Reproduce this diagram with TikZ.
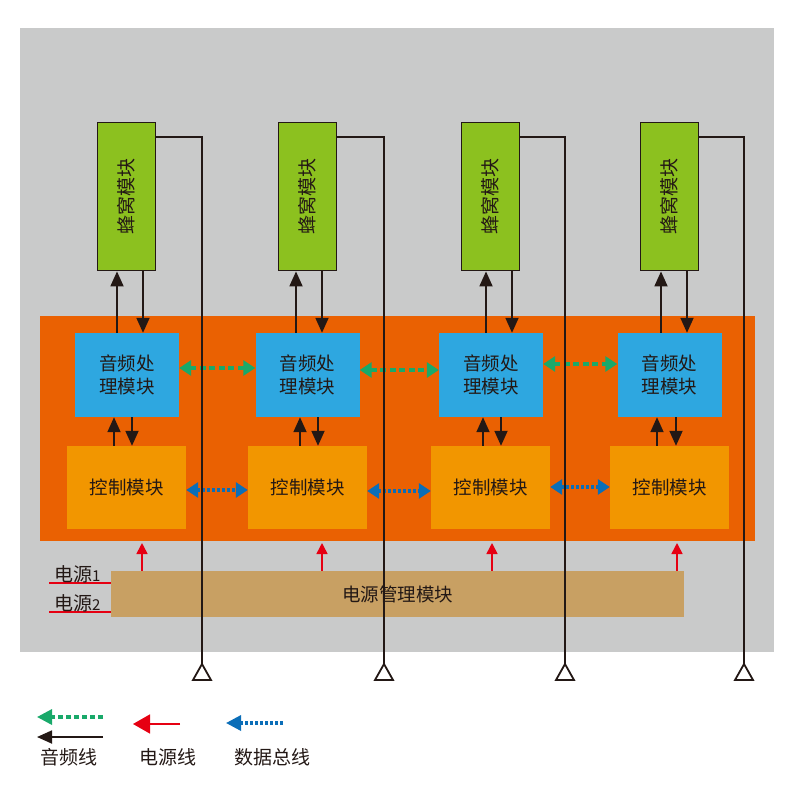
\documentclass[tikz,border=0pt]{standalone}
\usepackage{fontspec}
\setmainfont{Noto Sans CJK SC}
\usetikzlibrary{arrows.meta,calc}

\definecolor{bggray}{HTML}{C9CACA}
\definecolor{panelorange}{HTML}{EA6102}
\definecolor{hivegreen}{HTML}{8CC11F}
\definecolor{audioblue}{HTML}{2EA7E0}
\definecolor{ctrlorange}{HTML}{F29600}
\definecolor{powertan}{HTML}{C8A063}
\definecolor{inkdark}{HTML}{231815}
\definecolor{audiogreen}{HTML}{19A96A}
\definecolor{busblue}{HTML}{0B6EB8}
\definecolor{powerred}{HTML}{E60012}

\tikzset{
  hivebox/.style={draw=inkdark, line width=1.8pt, fill=hivegreen, minimum width=58pt, minimum height=148pt, inner sep=0pt},
  audiobox/.style={fill=audioblue, minimum width=104pt, minimum height=84pt, inner sep=0pt, align=center, font=\fontsize{18.5}{22.5}\selectfont, text=inkdark},
  ctrlbox/.style={fill=ctrlorange, minimum width=119pt, minimum height=83pt, inner sep=0pt, font=\fontsize{18.5}{22}\selectfont, text=inkdark},
  sigline/.style={draw=inkdark, line width=1.8pt, -{Triangle[length=15pt,width=13pt]}},
  audiolink/.style={draw=audiogreen, line width=3.3pt, dash pattern=on 6pt off 3.5pt, {Triangle[length=12pt,width=15pt]}-{Triangle[length=12pt,width=15pt]}},
  buslink/.style={draw=busblue, line width=3.3pt, dash pattern=on 3pt off 2pt, {Triangle[length=12pt,width=15pt]}-{Triangle[length=12pt,width=15pt]}},
  powerline/.style={draw=powerred, line width=1.6pt, -{Triangle[length=11pt,width=11pt]}},
  feedline/.style={draw=inkdark, line width=1.8pt},
  antenna/.style={draw=inkdark, line width=1.8pt, fill=white},
  label/.style={font=\fontsize{19}{21}\selectfont, text=inkdark},
}

\begin{document}
\begin{tikzpicture}[x=1pt,y=-1pt]
\useasboundingbox (0,0) rectangle (802,792);

% housing and processing panel
\fill[bggray] (20,28) rectangle (774,652);
\fill[panelorange] (40,316) rectangle (755,541);

% honeycomb modules
\foreach \i/\x in {1/126.5, 2/307.5, 3/490.5, 4/669.5}{
  \node[hivebox] (hive\i) at (\x,196.5) {};
  \node[font=\fontsize{19}{21}\selectfont, text=inkdark, rotate=90] at (hive\i) {蜂窝模块};
}

% audio processing modules
\node[audiobox] (aud1) at (127,375) {音频处\\理模块};
\node[audiobox] (aud2) at (307.5,375) {音频处\\理模块};
\node[audiobox] (aud3) at (491,375) {音频处\\理模块};
\node[audiobox] (aud4) at (669.5,375) {音频处\\理模块};

% control modules
\node[ctrlbox] (ctl1) at (126.5,487.5) {控制模块};
\node[ctrlbox] (ctl2) at (307.5,487.5) {控制模块};
\node[ctrlbox] (ctl3) at (490.5,487.5) {控制模块};
\node[ctrlbox] (ctl4) at (669.5,487.5) {控制模块};

% power management module
\node[fill=powertan, minimum width=573pt, minimum height=46pt, inner sep=0pt, font=\fontsize{18.5}{20}\selectfont, text=inkdark] (pwr) at (397.5,594) {电源管理模块};

% audio lines between honeycomb and audio modules
\foreach \i/\u/\d in {1/117/143, 2/296/322, 3/486/512, 4/661/687}{
  \draw[sigline] (aud\i.north -| \u,0) -- (hive\i.south -| \u,0);
  \draw[sigline] (hive\i.south -| \d,0) -- (aud\i.north -| \d,0);
}

% audio lines between audio and control modules
\foreach \i/\u/\d in {1/114/132, 2/300/318, 3/483/501, 4/657/676}{
  \draw[sigline] (ctl\i.north -| \u,0) -- (aud\i.south -| \u,0);
  \draw[sigline] (aud\i.south -| \d,0) -- (ctl\i.north -| \d,0);
}

% audio links between neighbouring audio modules
\draw[audiolink] (aud1.east |- 0,368) -- (aud2.west |- 0,368);
\draw[audiolink] (aud2.east |- 0,370) -- (aud3.west |- 0,370);
\draw[audiolink] (aud3.east |- 0,364) -- (aud4.west |- 0,364);

% data bus between neighbouring control modules
\draw[buslink] (ctl1.east |- 0,490) -- (ctl2.west |- 0,490);
\draw[buslink] (ctl2.east |- 0,491) -- (ctl3.west |- 0,491);
\draw[buslink] (ctl3.east |- 0,487) -- (ctl4.west |- 0,487);

% antennas and their feed lines (drawn over the links they cross)
\foreach \i/\x in {1/202, 2/384, 3/565, 4/744}{
  \coordinate (ant\i) at (\x,664);
  \draw[feedline] ($(hive\i.north east)+(0,15)$) -| (ant\i);
  \draw[antenna] (ant\i) -- ++(9,16) -- ++(-18,0) -- cycle;
}

% power feeds to the processing panel
\foreach \x in {142, 322, 492, 677}{
  \draw[powerline] (pwr.north -| \x,0) -- (\x,543);
}

% power inputs
\coordinate (in1) at (49,583);
\coordinate (in2) at (49,612);
\draw[draw=powerred, line width=1.6pt] (in1) -- (pwr.west |- in1);
\draw[draw=powerred, line width=1.6pt] (in2) -- (pwr.west |- in2);
\node[label, anchor=south west, inner sep=1pt] (in1lbl) at (53,584) {电源{\rmfamily\fontsize{15}{15}\selectfont 1}};
\node[label, anchor=south west, inner sep=1pt] (in2lbl) at (53,613) {电源{\rmfamily\fontsize{15}{15}\selectfont 2}};

% legend
\coordinate (lg1a) at (103,717); \coordinate (lg1b) at (37,717);
\coordinate (lg2a) at (103,737); \coordinate (lg2b) at (37,737);
\coordinate (lg3a) at (180,724); \coordinate (lg3b) at (133,724);
\coordinate (lg4a) at (283,723); \coordinate (lg4b) at (226,723);
\draw[draw=audiogreen, line width=3.3pt, dash pattern=on 5pt off 3pt, -{Triangle[length=15pt,width=15pt]}] (lg1a) -- (lg1b);
\draw[sigline] (lg2a) -- (lg2b);
\draw[draw=powerred, line width=1.6pt, -{Triangle[length=17pt,width=19pt]}] (lg3a) -- (lg3b);
\draw[draw=busblue, line width=3.3pt, dash pattern=on 3pt off 2pt, -{Triangle[length=15pt,width=15pt]}] (lg4a) -- (lg4b);
\node[label] (lgt1) at (69,757) {音频线};
\node[label] (lgt2) at (168,757) {电源线};
\node[label] (lgt3) at (272,757) {数据总线};
\end{tikzpicture}
\end{document}
